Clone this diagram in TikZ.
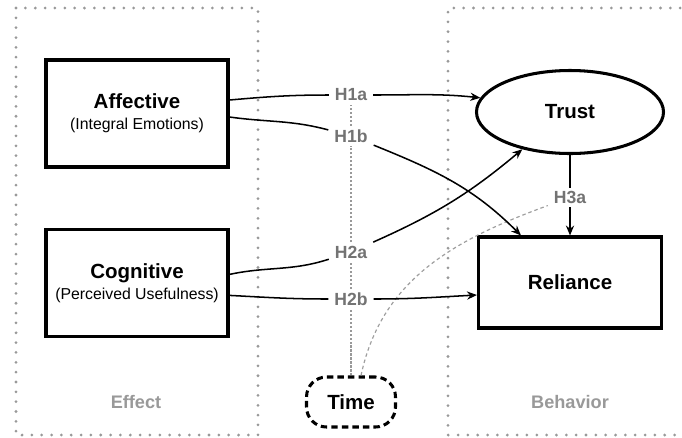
\documentclass[tikz,border=0pt]{standalone}
\usepackage{fontspec}
\setmainfont{Liberation Sans}
\usepackage{tikz}
\usetikzlibrary{positioning,arrows.meta,shapes.geometric}
\newcommand{\subtext}[1]{{\fontsize{13.5}{16}\selectfont\mdseries #1}}

\begin{document}
\begin{tikzpicture}[x=0.03cm,y=0.03cm,
  panel/.style={draw=black!40,line width=2.6pt,line cap=round,dash pattern=on 0pt off 8.4pt},
  construct/.style={draw,line width=2.6pt,align=center,font=\fontsize{17.5}{20}\selectfont\bfseries},
  hyp/.style={fill=white,text=black!55,inner xsep=5pt,inner ysep=3pt,font=\fontsize{15}{17}\selectfont\bfseries},
  area/.style={text=black!40,font=\fontsize{15.5}{18}\selectfont\bfseries},
  link/.style={line width=1.3pt,-{Stealth[length=8.5pt,width=7pt]}},
  timeline/.style={draw=black!38,line width=1pt,dash pattern=on 3pt off 2.5pt}]
\useasboundingbox (0,0) rectangle (682,-437);

\draw[panel] (16,-8) rectangle (258,-435);
\draw[panel] (690,-8) -- (448,-8) -- (448,-435) -- (690,-435);

\node[area] (effect) at (136,-402) {Effect}; \node[area] (behavior) at (570,-402) {Behavior};

\node[construct, minimum width=5.46cm, minimum height=3.21cm] (aff) at (137,-113.5) {Affective\\[-2pt]\subtext{(Integral Emotions)}};
\node[construct, minimum width=5.46cm, minimum height=3.21cm, below=1.78cm of aff] (cog) {Cognitive\\[-2pt]\subtext{(Perceived Usefulness)}};
\node[construct, ellipse, minimum width=5.61cm, minimum height=2.49cm] (trust) at (570,-112) {Trust};
\node[construct, minimum width=5.49cm, minimum height=2.73cm] (rel) at (570,-282.5) {Reliance};
\node[construct, dash pattern=on 5.5pt off 3.5pt, rounded corners=0.6cm, minimum width=2.67cm, minimum height=1.5cm] (time) at (351,-402) {Time};

\node[hyp] (h1a) at (351,-95) {H1a}; \node[hyp] (h1b) at (351,-136) {H1b};
\node[hyp] (h2a) at (351,-252) {H2a}; \node[hyp] (h2b) at (351,-299) {H2b};
\node[hyp] (h3a) at (570,-197.5) {H3a};

\draw[draw=black!40,line width=1pt,dash pattern=on 1.8pt off 1.6pt] (time) -- (h2b) -- (h2a) -- (h1b) -- (h1a);
\draw[timeline] ([xshift=0.3cm]time.north) to[out=78,in=200] (h3a);

\draw[link] ([yshift=0.405cm]aff.east) to[out=5,in=180] (h1a) to[out=0,in=174] (trust.171);
\draw[link] ([yshift=-0.105cm]aff.east) to[out=-8,in=165] (h1b) to[out=-22,in=135] ([xshift=1.32cm]rel.north west);
\draw[link] ([yshift=0.255cm]cog.east) to[out=12,in=198] (h2a) to[out=24,in=220] (trust.218);
\draw[link] ([yshift=-0.375cm]cog.east) to[out=-3,in=180] (h2b) to[out=0,in=183] ([yshift=-0.375cm]rel.west);
\draw[link] (trust) -- (h3a) -- (rel);
\end{tikzpicture}
\end{document}
